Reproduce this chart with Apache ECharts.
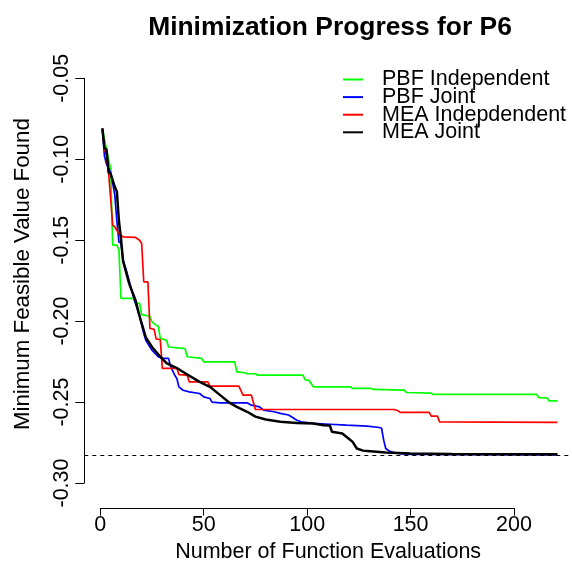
<!DOCTYPE html>
<html>
<head>
<meta charset="utf-8">
<script src="https://cdn.jsdelivr.net/npm/echarts@6/dist/echarts.min.js"></script>
<style>
  html, body { margin: 0; padding: 0; background: #ffffff; }
  #chart { width: 572px; height: 572px; }
</style>
</head>
<body>
<div id="chart"></div>
<script>
// Best feasible objective value found so far, as [evaluation, value] pairs.
const pbfIndependent = [
  [1,-0.081],[3,-0.094],[5,-0.106],[6,-0.153],[8,-0.153],[9,-0.156],[10,-0.186],[16,-0.186],
  [17,-0.189],[19,-0.189],[20,-0.196],[24,-0.197],[25,-0.2005],[27,-0.2025],[28,-0.2030],
  [29,-0.2107],[32,-0.2118],[33,-0.216],[41,-0.217],[42,-0.222],[49,-0.223],[50,-0.2252],
  [65,-0.2252],[66,-0.2313],[70,-0.2319],[71,-0.2325],[75,-0.2325],[76,-0.2334],[98,-0.2334],
  [99,-0.2362],[101,-0.2368],[103,-0.2406],[121,-0.2406],[122,-0.2416],[131,-0.2416],
  [132,-0.2422],[147,-0.2426],[148,-0.2441],[160,-0.2445],[161,-0.2453],[211,-0.2453],
  [212,-0.2472],[216,-0.2474],[217,-0.2493],[221,-0.2493]
];
const pbfJoint = [
  [1,-0.081],[2,-0.098],[3,-0.103],[5,-0.108],[7,-0.122],[8,-0.138],[9,-0.151],[10,-0.152],
  [11,-0.162],[13,-0.1705],[16,-0.185],[19,-0.197],[21,-0.2076],[22,-0.2118],[25,-0.218],
  [28,-0.222],[30,-0.223],[33,-0.223],[34,-0.228],[36,-0.2334],[37,-0.2354],[38,-0.2406],
  [40,-0.2427],[43,-0.2437],[48,-0.2447],[50,-0.2468],[53,-0.2478],[54,-0.2500],[58,-0.2505],
  [71,-0.2505],[73,-0.2519],[77,-0.2530],[79,-0.2550],[84,-0.2560],[87,-0.2570],[91,-0.2580],
  [93,-0.2595],[95,-0.2612],[97,-0.2622],[103,-0.2632],[111,-0.2637],[119,-0.2643],
  [129,-0.2649],[135,-0.2657],[136,-0.2662],[137,-0.2735],[138,-0.2787],[140,-0.2805],
  [142,-0.2812],[145,-0.2818],[150,-0.2823],[221,-0.2826]
];
const meaIndependent = [
  [1,-0.081],[2,-0.093],[3,-0.098],[4,-0.108],[6,-0.1407],[7,-0.1417],[9,-0.146],[11,-0.148],
  [17,-0.1483],[19,-0.150],[20,-0.152],[21,-0.1757],[23,-0.1757],[24,-0.2045],[26,-0.2050],
  [27,-0.2110],[29,-0.2115],[30,-0.2292],[37,-0.2292],[38,-0.2330],[42,-0.2334],[43,-0.2375],
  [52,-0.2375],[53,-0.2402],[67,-0.2402],[69,-0.2457],[73,-0.2457],[75,-0.2546],[142,-0.2546],
  [144,-0.2554],[145,-0.2564],[159,-0.2564],[160,-0.2587],[163,-0.2587],[164,-0.2622],
  [221,-0.2625]
];
const meaJoint = [
  [1,-0.081],[2,-0.093],[3,-0.094],[4,-0.108],[5,-0.109],[7,-0.117],[8,-0.120],[9,-0.138],
  [10,-0.149],[11,-0.163],[14,-0.177],[17,-0.187],[19,-0.197],[22,-0.210],[25,-0.216],
  [29,-0.222],[32,-0.226],[37,-0.229],[42,-0.233],[46,-0.236],[48,-0.2375],[53,-0.2406],
  [56,-0.2437],[59,-0.2468],[62,-0.2500],[66,-0.2530],[71,-0.2560],[75,-0.2590],[80,-0.2608],
  [87,-0.2622],[95,-0.2629],[103,-0.2632],[108,-0.2643],[111,-0.2645],[112,-0.2684],
  [117,-0.2694],[120,-0.2725],[122,-0.2746],[124,-0.2787],[127,-0.2800],[129,-0.2802],
  [138,-0.2811],[150,-0.2818],[170,-0.2821],[221,-0.2822]
];

const seriesNames = ['PBF Independent', 'PBF Joint', 'MEA Indepdendent', 'MEA Joint'];
const seriesData = [pbfIndependent, pbfJoint, meaIndependent, meaJoint];
const seriesColors = ['#00ff00', '#0000ff', '#ff0000', '#000000'];
const seriesWidths = [1.7, 1.7, 1.7, 2.5];

const referenceValue = -0.2828;           // dashed horizontal reference
const xTicks = [0, 50, 100, 150, 200];
const yTicks = [-0.30, -0.25, -0.20, -0.15, -0.10, -0.05];

// ---- layout (pixels) ----
const FONT = '"Liberation Sans", Arial, Helvetica, sans-serif';
const FS = 21.5;
const W = 572;
const xZeroPx = 100.3, xPxPerUnit = 2.0685;    // where x = 0 sits, and scale
const yTopTickPx = 78.3, yPxPerUnit = 1618.8;  // where the top y tick sits, and scale
const xAxisLinePx = 508, yAxisLinePx = 84.3;

// plotting region limits in data units
const xMin = -7.74;
const xMax = (W - xZeroPx) / xPxPerUnit;
const yMax = -0.04, yMin = -0.31;
const yTopTick = yTicks[yTicks.length - 1];

const xStep = xTicks[1] - xTicks[0];
const yStep = +(yTicks[1] - yTicks[0]).toFixed(2);

const plotLeft = xZeroPx + xMin * xPxPerUnit;
const plotTop = yTopTickPx - (yMax - yTopTick) * yPxPerUnit;
const plotHeight = (yMax - yMin) * yPxPerUnit;

const textBase = { fontFamily: FONT, fontSize: FS, color: '#000' };

const chart = echarts.init(document.getElementById('chart'), null, { renderer: 'canvas' });

const series = seriesNames.map((name, i) => ({
  name,
  type: 'line',
  xAxisIndex: 0,
  yAxisIndex: 0,
  data: seriesData[i],
  showSymbol: false,
  symbol: 'none',
  smooth: false,
  z: 2 + i,
  itemStyle: { color: seriesColors[i] },
  lineStyle: { color: seriesColors[i], width: seriesWidths[i] },
  emphasis: { disabled: true }
}));

series[0].markLine = {
  silent: true,
  precision: 6,
  symbol: ['none', 'none'],
  label: { show: false },
  lineStyle: { color: '#000', width: 1, type: [4, 4] },
  data: [{ yAxis: referenceValue }]
};

chart.setOption({
  animation: false,
  backgroundColor: '#ffffff',
  title: {
    text: 'Minimization Progress for P6',
    left: 330,
    top: 15,
    padding: 0,
    textAlign: 'center',
    textStyle: { fontFamily: FONT, fontSize: 26.4, fontWeight: 'bold', color: '#000' }
  },
  legend: {
    data: seriesNames,
    orient: 'vertical',
    left: 343,
    top: 68.5,
    padding: 0,
    itemGap: -4.4,
    itemWidth: 28,
    itemHeight: 2,
    icon: 'path://M0 0H10V1H0Z',
    selectedMode: false,
    textStyle: Object.assign({}, textBase, { padding: [0, 0, 0, 10] })
  },
  grid: [
    { left: plotLeft, top: plotTop, width: W - plotLeft, height: plotHeight, containLabel: false },
    { left: xZeroPx + xTicks[0] * xPxPerUnit, width: (xTicks[xTicks.length - 1] - xTicks[0]) * xPxPerUnit,
      top: xAxisLinePx - 1, height: 1 },
    { left: yAxisLinePx, width: 1, top: yTopTickPx, height: (yTopTick - yTicks[0]) * yPxPerUnit }
  ],
  xAxis: [
    { gridIndex: 0, type: 'value', min: xMin, max: xMax,
      axisLine: { show: false }, axisTick: { show: false }, axisLabel: { show: false },
      splitLine: { show: false },
      name: 'Number of Function Evaluations', nameLocation: 'middle', nameGap: 42,
      nameTextStyle: textBase },
    { gridIndex: 1, type: 'value', min: xTicks[0], max: xTicks[xTicks.length - 1], interval: xStep,
      position: 'bottom',
      axisLine: { show: true, lineStyle: { color: '#000', width: 1 } },
      axisTick: { show: true, length: 7.5, inside: false, lineStyle: { color: '#000', width: 1 } },
      axisLabel: Object.assign({ show: true, margin: 6, showMinLabel: true, showMaxLabel: true }, textBase),
      splitLine: { show: false } },
    { gridIndex: 2, type: 'value', show: false, min: 0, max: 1 }
  ],
  yAxis: [
    { gridIndex: 0, type: 'value', min: yMin, max: yMax,
      axisLine: { show: false }, axisTick: { show: false }, axisLabel: { show: false },
      splitLine: { show: false },
      name: 'Minimum Feasible Value Found', nameLocation: 'middle', nameGap: 50, nameRotate: 90,
      nameTextStyle: Object.assign({}, textBase, { fontSize: 22.3, padding: [0, 0, 0, 13] }) },
    { gridIndex: 1, type: 'value', show: false, min: 0, max: 1 },
    { gridIndex: 2, type: 'value', min: yTicks[0], max: yTopTick, interval: yStep,
      position: 'left',
      axisLine: { show: true, lineStyle: { color: '#000', width: 1 } },
      axisTick: { show: true, length: 9, inside: false, lineStyle: { color: '#000', width: 1 } },
      axisLabel: Object.assign({ show: true, margin: 11, rotate: 90, showMinLabel: true, showMaxLabel: true,
        formatter: v => v.toFixed(2) }, textBase),
      splitLine: { show: false } }
  ],
  series
});
</script>
</body>
</html>
